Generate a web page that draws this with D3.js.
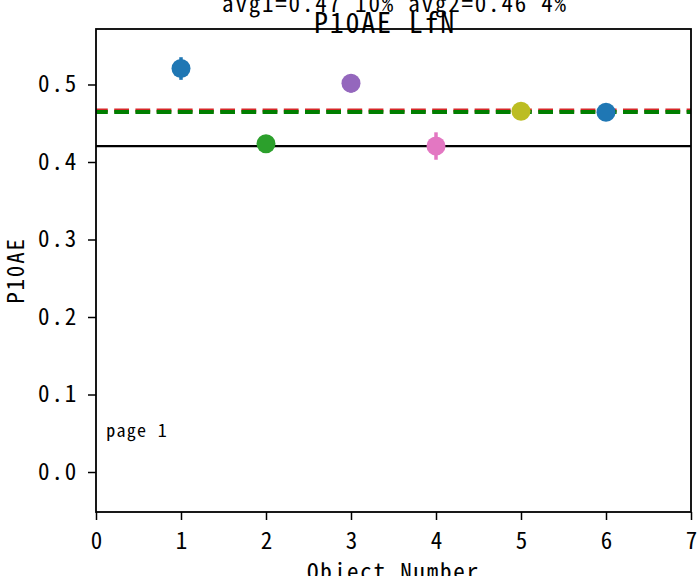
<!DOCTYPE html>
<html>
<head>
<meta charset="utf-8">
<script src="https://cdn.jsdelivr.net/npm/d3@7"></script>
<style>
  html, body { margin: 0; padding: 0; background: #fff; }
  svg { display: block; }
  text { font-family: "Noto Sans Mono CJK JP", "DejaVu Sans Mono", monospace; fill: #000; }
</style>
</head>
<body>
<svg id="chart" width="697" height="576"></svg>
<script>
// ---- data ----
const objectNumbers = [1, 2, 3, 4, 5, 6];
const p10aeValues   = [0.5206, 0.4236, 0.5015, 0.4206, 0.4655, 0.4643];
const p10aeErrors   = [0.0146, 0.0, 0.012, 0.0177, 0.0, 0.0];
const pointColors   = ["#1f77b4", "#2ca02c", "#9467bd", "#e377c2", "#bcbd22", "#1f77b4"];
const referenceValue = 0.4204;
const avg1Value = 0.4665;
const avg2Value = 0.4645;
const xTicks = [0, 1, 2, 3, 4, 5, 6, 7];
const yTicks = [0.0, 0.1, 0.2, 0.3, 0.4, 0.5];
const titleText = "P10AE LfN";
const subtitleText = "avg1=0.47 10% avg2=0.46 4%";
const xLabel = "Object Number";
const yLabel = "P10AE";
const noteText = "page 1";

// ---- layout ----
const svg = d3.select("#chart");
const L = 96, R = 691, T = 29, B = 512;
const x = d3.scaleLinear().domain([0, 7]).range([L, R]);
const y = d3.scaleLinear().domain([-0.0516, 0.5716]).range([B, T]);
const FS = 23, LS = 1.8;

svg.append("defs").append("clipPath").attr("id", "plotclip")
  .append("rect").attr("x", L).attr("y", T).attr("width", R - L).attr("height", B - T);

const plot = svg.append("g").attr("clip-path", "url(#plotclip)");

// reference solid line
plot.append("line")
  .attr("x1", x(0)).attr("x2", x(7))
  .attr("y1", y(referenceValue)).attr("y2", y(referenceValue))
  .attr("stroke", "#000").attr("stroke-width", 2.2);

// avg lines
plot.append("line")
  .attr("x1", x(0)).attr("x2", x(7))
  .attr("y1", y(avg1Value)).attr("y2", y(avg1Value))
  .attr("stroke", "#d62728").attr("stroke-width", 4)
  .attr("stroke-dasharray", "14.8,6.4").attr("stroke-dashoffset", 3);
plot.append("line")
  .attr("x1", x(0)).attr("x2", x(7))
  .attr("y1", y(avg2Value)).attr("y2", y(avg2Value))
  .attr("stroke", "#007f00").attr("stroke-width", 4)
  .attr("stroke-dasharray", "14.8,6.4").attr("stroke-dashoffset", 3);

// error bars + points
const pts = objectNumbers.map((n, i) => ({n, v: p10aeValues[i], e: p10aeErrors[i], c: pointColors[i]}));
const g = plot.selectAll("g.pt").data(pts).enter().append("g").attr("class", "pt");
g.filter(d => d.e > 0).append("line")
  .attr("x1", d => x(d.n)).attr("x2", d => x(d.n))
  .attr("y1", d => y(d.v - d.e)).attr("y2", d => y(d.v + d.e))
  .attr("stroke", d => d.c).attr("stroke-width", 3.5);
g.append("circle")
  .attr("cx", d => x(d.n)).attr("cy", d => y(d.v))
  .attr("r", 9.5).attr("fill", d => d.c);

// note
svg.append("text").attr("x", x(0.12)).attr("y", y(0.045))
  .attr("font-size", 18).attr("letter-spacing", 1.3).text(noteText);

// axes
const xAxis = svg.append("g").attr("transform", `translate(0,${B})`)
  .call(d3.axisBottom(x).tickValues(xTicks).tickFormat(d3.format("d")).tickSizeInner(8).tickSizeOuter(0).tickPadding(4));
const yAxis = svg.append("g").attr("transform", `translate(${L},0)`)
  .call(d3.axisLeft(y).tickValues(yTicks).tickFormat(d3.format(".1f")).tickSizeInner(8).tickSizeOuter(0).tickPadding(10));
[xAxis, yAxis].forEach(a => {
  a.selectAll("text").attr("font-size", FS).attr("font-family", null).attr("letter-spacing", LS);
  a.selectAll("line").attr("stroke-width", 1.5);
  a.select(".domain").remove();
});
xAxis.selectAll("text").attr("y", 37).attr("dy", 0).attr("letter-spacing", 0);

// frame
svg.append("rect").attr("x", L).attr("y", T).attr("width", R - L).attr("height", B - T)
  .attr("fill", "none").attr("stroke", "#000").attr("stroke-width", 1.8);

// labels
svg.append("text").attr("x", (L + R) / 2).attr("y", 580).attr("text-anchor", "middle")
  .attr("font-size", FS).attr("letter-spacing", LS).text(xLabel);
svg.append("text").attr("transform", `translate(24,${(T + B) / 2}) rotate(-90)`)
  .attr("text-anchor", "middle").attr("font-size", FS).attr("letter-spacing", LS).text(yLabel);
svg.append("text").attr("x", 385).attr("y", 33).attr("text-anchor", "middle")
  .attr("font-size", 28).attr("letter-spacing", LS).text(titleText);
svg.append("text").attr("x", 395).attr("y", 12).attr("text-anchor", "middle")
  .attr("font-size", FS).attr("letter-spacing", LS).text(subtitleText);
</script>
</body>
</html>
